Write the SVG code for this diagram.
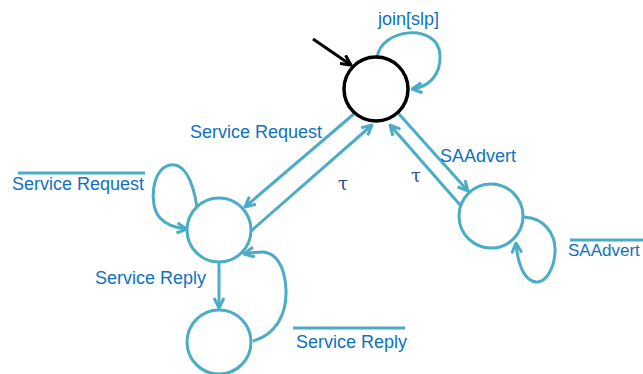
<svg xmlns="http://www.w3.org/2000/svg" width="643" height="374" viewBox="0 0 643 374">
<style>
.st{fill:#fff;stroke:#4BACC6;stroke-width:3}
.c{fill:none;stroke:#4BACC6;stroke-width:3}
.t{font-family:"Liberation Sans",Arial,sans-serif;font-size:18px;fill:#0E71C1}
.tau{font-family:"DejaVu Serif",serif;font-size:18px;fill:#2F4F8F}
.ov{stroke:#4BACC6;stroke-width:3}
</style>
<defs>
<marker id="a" viewBox="0 0 12 12" refX="11" refY="6" markerWidth="12" markerHeight="12" markerUnits="userSpaceOnUse" orient="auto">
<path d="M1,1 L11,6 L1,11" fill="none" stroke="#4BACC6" stroke-width="3"/>
</marker>
<marker id="ab" viewBox="0 0 12 12" refX="11" refY="6" markerWidth="12" markerHeight="12" markerUnits="userSpaceOnUse" orient="auto">
<path d="M1,1 L11,6 L1,11" fill="none" stroke="#000" stroke-width="3"/>
</marker>
</defs>
<g id="connectors">
<path d="M313,39 L351,65" fill="none" stroke="#000" stroke-width="3" marker-end="url(#ab)"/>
<path class="c" d="M377,58 C380,28 438,22 440,55 C441,76 428,87 412,89" marker-end="url(#a)"/>
<path class="c" d="M355,113 L245,207" marker-end="url(#a)"/>
<path class="c" d="M251,231 L372,125" marker-end="url(#a)"/>
<path class="c" d="M398,113 L468,191" marker-end="url(#a)"/>
<path class="c" d="M461,206 L390,125" marker-end="url(#a)"/>
<path class="c" d="M197,207 C192,175 182,163 170,165 C152,168 148,205 160,218 C167,226 177,228 187,229" marker-end="url(#a)"/>
<path class="c" d="M219,262 L219,308" marker-end="url(#a)"/>
<path class="c" d="M253,341 C275,335 287,315 286,290 C285,265 275,252 262,252 C255,252 249,253 244,254" marker-end="url(#a)"/>
<path class="c" d="M524,217 C545,218 556,235 555,252 C554,270 545,283 536,282 C526,281 518,268 516,243" marker-end="url(#a)"/>
</g>
<g id="s0"><circle cx="376" cy="89" r="32" fill="#fff" stroke="#000" stroke-width="3.5"/></g>
<g id="s1"><circle class="st" cx="219" cy="230" r="32"/></g>
<g id="s2"><circle class="st" cx="219" cy="342" r="32"/></g>
<g id="s3"><circle class="st" cx="491" cy="216" r="32"/></g>
<g id="labels">
<text class="t" x="378" y="25">join[slp]</text>
<text class="t" x="190" y="138">Service Request</text>
<line class="ov" x1="18" y1="173" x2="145" y2="173"/>
<text class="t" x="12" y="190">Service Request</text>
<text class="tau" x="338" y="190">τ</text>
<text class="tau" x="411" y="182">τ</text>
<text class="t" x="440" y="162">SAAdvert</text>
<line class="ov" x1="570" y1="240" x2="643" y2="240"/>
<text class="t" x="568" y="256" style="font-size:17px">SAAdvert</text>
<text class="t" x="95" y="284">Service Reply</text>
<line class="ov" x1="293" y1="328" x2="405" y2="328"/>
<text class="t" x="296" y="348">Service Reply</text>
</g>
</svg>
